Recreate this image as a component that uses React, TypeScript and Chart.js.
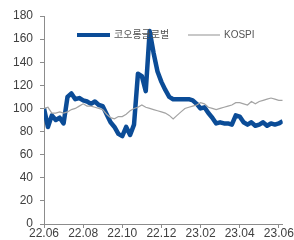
import React, { useEffect, useRef } from 'react';
import { Chart, registerables } from 'chart.js';

Chart.register(...registerables);

// samples every STEP months, starting at 22.06
const STEP = 0.2;
const xMax = 12.2;
const tickLabels = ['22.06', '22.08', '22.10', '22.12', '23.02', '23.04', '23.06'];
const seriesNames = ['코오롱글로벌', 'KOSPI'];
const yTicks = { min: 0, max: 180, step: 20 };

const kolon = [
  100, 84, 94, 90, 92, 87, 110, 113, 108, 109,
  107, 106, 104, 106, 103, 102, 95, 88, 84, 78,
  76, 84, 77, 86, 130, 128, 115, 167, 148, 132,
  123, 116, 110, 108, 108, 108, 108, 108, 107, 104,
  100, 101, 96, 92, 87, 88, 87, 87, 86, 94,
  93, 88, 86, 88, 85, 86, 88, 85, 87, 86,
  87, 89,
];

const kospi = [
  100, 101, 96, 96, 97, 96, 97, 99, 100, 102,
  104, 102, 102, 101, 100, 99, 95, 92, 91, 93,
  93, 95, 98, 100, 101, 103, 101, 100, 99, 98,
  97, 96, 94, 91, 94, 97, 100, 101, 102, 103,
  105, 104, 101, 100, 99, 100, 101, 102, 103, 105,
  105, 104, 103, 106, 104, 106, 107, 108, 109, 108,
  107, 107,
];

const colors = ['#0B4C97', '#A3A3A3'];
const widths = [4.5, 1.2];

const FONT = "'Liberation Sans', Arial, 'Noto Sans CJK KR', sans-serif";

const overlayLegend = {
  id: 'overlayLegend',
  afterDatasetsDraw(chart: any) {
    const ctx = chart.ctx;
    ctx.save();
    const y = 35;
    const items = [
      { x0: 77, x1: 110, tx: 114 },
      { x0: 188, x1: 220, tx: 224 },
    ];
    items.forEach((it, i) => {
      ctx.strokeStyle = colors[i];
      ctx.lineWidth = i === 0 ? 4 : widths[i];
      ctx.beginPath();
      ctx.moveTo(it.x0, y);
      ctx.lineTo(it.x1, y);
      ctx.stroke();
      ctx.fillStyle = '#555555';
      ctx.font = `10px ${FONT}`;
      ctx.textBaseline = 'middle';
      ctx.textAlign = 'left';
      ctx.fillText(seriesNames[i], it.tx, y);
    });
    ctx.restore();
  },
};

export default function App() {
  const ref = useRef<HTMLCanvasElement | null>(null);

  useEffect(() => {
    if (!ref.current) return;
    const toPts = (arr: number[]) => arr.map((v, i) => ({ x: i * STEP, y: v }));
    const chart = new Chart(ref.current, {
      type: 'line',
      data: {
        datasets: [
          {
            label: seriesNames[0],
            data: toPts(kolon),
            borderColor: colors[0],
            backgroundColor: colors[0],
            borderWidth: widths[0],
            pointRadius: 0,
            tension: 0,
            order: 1,
            borderJoinStyle: 'round',
          },
          {
            label: seriesNames[1],
            data: toPts(kospi),
            borderColor: colors[1],
            backgroundColor: colors[1],
            borderWidth: widths[1],
            pointRadius: 0,
            tension: 0,
            order: 0,
          },
        ],
      },
      options: {
        animation: false,
        responsive: true,
        maintainAspectRatio: false,
        layout: { padding: { left: 6, right: 11, top: 16, bottom: 0 } },
        plugins: { legend: { display: false }, tooltip: { enabled: false } },
        scales: {
          x: {
            type: 'linear',
            min: 0,
            max: xMax,
            border: { display: true, color: '#8C8C8C' },
            grid: { display: true, drawOnChartArea: false, drawTicks: true, tickLength: 4, color: '#8C8C8C' },
            ticks: {
              stepSize: 2,
              includeBounds: false,
              autoSkip: false,
              maxRotation: 0,
              padding: 0,
              color: '#404040',
              font: { family: FONT, size: 12, lineHeight: 1.0 },
              callback: (v: any) => {
                const idx = Math.round(Number(v) / 2);
                return Math.abs(Number(v) - idx * 2) < 1e-6 ? tickLabels[idx] ?? '' : '';
              },
            },
          },
          y: {
            min: yTicks.min,
            max: yTicks.max,
            border: { display: true, color: '#8C8C8C' },
            grid: { display: true, drawOnChartArea: false, drawTicks: true, tickLength: 4, color: '#8C8C8C' },
            ticks: {
              stepSize: yTicks.step,
              padding: 7,
              color: '#404040',
              font: { family: FONT, size: 12 },
            },
          },
        },
      },
      plugins: [overlayLegend],
    });
    return () => chart.destroy();
  }, []);

  return (
    <div style={{ position: 'absolute', left: 0, top: 0, width: 294, height: 240, background: '#fff' }}>
      <canvas ref={ref} />
    </div>
  );
}
